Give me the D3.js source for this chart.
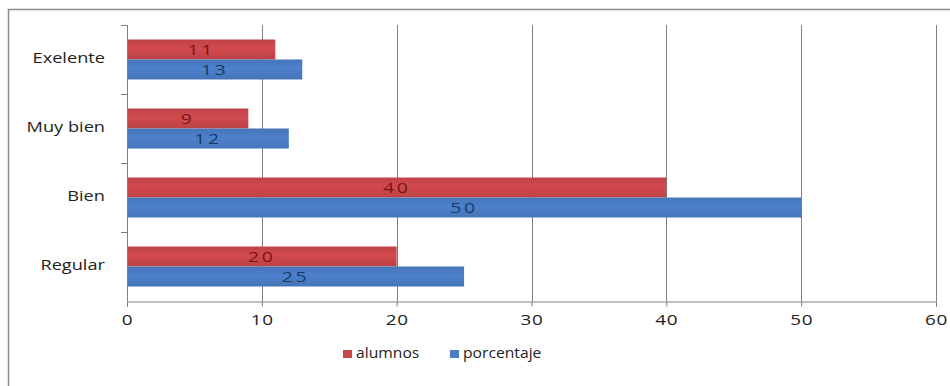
<!DOCTYPE html>
<html>
<head>
<meta charset="utf-8">
<script src="https://cdn.jsdelivr.net/npm/d3@7"></script>
<style>
  body { margin: 0; background: #fff; }
  text { font-family: "Open Sans", "DejaVu Sans", sans-serif; }
</style>
</head>
<body>
<div id="chart"></div>
<script>
// chart data
const categories = ["Exelente", "Muy bien", "Bien", "Regular"]
const seriesNames = ["alumnos", "porcentaje"]
const alumnos = [11, 9, 40, 20]
const porcentaje = [13, 12, 50, 25]
const xTicks = [0, 10, 20, 30, 40, 50, 60]

const colors = { alumnos: "#c9474b", porcentaje: "#4a7cc3" }
const labelColors = { alumnos: "#7a1416", porcentaje: "#1b3a66" }

const width = 950
const height = 386
const plot = { left: 127, right: 936, top: 25, bottom: 301 }

// the original picture is stretched sideways, so text gets a horizontal scale
const stretch = (px, py, sx) => `translate(${px},${py}) scale(${sx},1)`

const svg = d3.select("#chart")
  .append("svg")
  .attr("width", width)
  .attr("height", height)

// gradients to get a bit of the old Excel look
const defs = svg.append("defs")
seriesNames.forEach(name => {
  const base = d3.color(colors[name])
  const grad = defs.append("linearGradient")
    .attr("id", "grad-" + name)
    .attr("x1", 0).attr("y1", 0).attr("x2", 0).attr("y2", 1)
  grad.append("stop").attr("offset", "0%").attr("stop-color", base.darker(0.15))
  grad.append("stop").attr("offset", "45%").attr("stop-color", base.brighter(0.12))
  grad.append("stop").attr("offset", "100%").attr("stop-color", base.darker(0.2))
})

// outer frame
svg.append("rect")
  .attr("x", 8.5)
  .attr("y", 9.5)
  .attr("width", 960)
  .attr("height", 400)
  .attr("fill", "none")
  .attr("stroke", "#8c8c8c")
  .attr("stroke-width", 1.5)

const x = d3.scaleLinear()
  .domain([0, 60])
  .range([plot.left, plot.right])

const y = d3.scaleBand()
  .domain(categories)
  .range([plot.top, plot.bottom])

const inner = d3.scaleBand()
  .domain(seriesNames)
  .range([0, 40])

const groupOffset = (y.bandwidth() - 40) / 2

// vertical gridlines
svg.append("g")
  .selectAll("line")
  .data(xTicks.slice(1))
  .enter()
  .append("line")
  .attr("x1", d => Math.round(x(d)) + 0.5)
  .attr("x2", d => Math.round(x(d)) + 0.5)
  .attr("y1", plot.top)
  .attr("y2", plot.bottom)
  .attr("stroke", "#7f7f7f")
  .attr("stroke-width", 1)

// bars
const rows = categories.map((c, i) => ({ cat: c, alumnos: alumnos[i], porcentaje: porcentaje[i] }))

const groups = svg.append("g")
  .selectAll("g")
  .data(rows)
  .enter()
  .append("g")
  .attr("transform", d => `translate(0,${y(d.cat) + groupOffset})`)

groups.selectAll("rect")
  .data(d => seriesNames.map(s => ({ key: s, value: d[s] })))
  .enter()
  .append("rect")
  .attr("x", x(0))
  .attr("y", d => inner(d.key))
  .attr("width", d => x(d.value) - x(0))
  .attr("height", inner.bandwidth())
  .attr("fill", d => "url(#grad-" + d.key + ")")

groups.selectAll("text")
  .data(d => seriesNames.map(s => ({ key: s, value: d[s] })))
  .enter()
  .append("text")
  .attr("transform", d => stretch((x(0) + x(d.value)) / 2, inner(d.key) + inner.bandwidth() / 2 + 1, 1.3))
  .attr("dominant-baseline", "middle")
  .attr("text-anchor", "middle")
  .style("font-size", "15px")
  .style("letter-spacing", "2px")
  .style("fill", d => labelColors[d.key])
  .text(d => d.value)

// y axis line and separator ticks
svg.append("line")
  .attr("x1", plot.left + 0.5)
  .attr("x2", plot.left + 0.5)
  .attr("y1", plot.top)
  .attr("y2", plot.bottom)
  .attr("stroke", "#7f7f7f")

svg.append("g")
  .selectAll("line")
  .data(categories)
  .enter()
  .append("line")
  .attr("x1", plot.left - 6)
  .attr("x2", plot.left)
  .attr("y1", d => Math.round(y(d)) + 0.5)
  .attr("y2", d => Math.round(y(d)) + 0.5)
  .attr("stroke", "#7f7f7f")

svg.append("g")
  .selectAll("text")
  .data(categories)
  .enter()
  .append("text")
  .attr("transform", d => stretch(105, y(d) + y.bandwidth() / 2, 1.3))
  .attr("dominant-baseline", "middle")
  .attr("text-anchor", "end")
  .style("font-size", "14px")
  .style("fill", "#222")
  .text(d => d)

// x axis
const xAxis = svg.append("g")
  .attr("transform", `translate(0,${plot.bottom + 0.5})`)
  .call(d3.axisBottom(x).tickValues(xTicks).tickSize(5).tickPadding(8))

xAxis.select(".domain").attr("stroke", "#7f7f7f")
xAxis.selectAll(".tick line").attr("stroke", "#7f7f7f")
xAxis.selectAll(".tick text")
  .attr("y", null)
  .attr("dy", null)
  .attr("transform", stretch(0, 20, 1.35))
  .attr("dominant-baseline", "middle")
  .style("font-size", "14px")
  .style("letter-spacing", "0.5px")
  .style("fill", "#222")
  .style("font-family", "\"Open Sans\", \"DejaVu Sans\", sans-serif")

// legend
const legendItems = [
  { key: "alumnos", x: 343 },
  { key: "porcentaje", x: 450 }
]
const legend = svg.append("g")
  .selectAll("g")
  .data(legendItems)
  .enter()
  .append("g")
  .attr("transform", d => `translate(${d.x},354)`)

legend.append("rect")
  .attr("x", 0)
  .attr("y", -4)
  .attr("width", 9)
  .attr("height", 8)
  .attr("fill", d => colors[d.key])

legend.append("text")
  .attr("transform", stretch(13, 0, 1.12))
  .attr("dominant-baseline", "middle")
  .style("font-size", "14px")
  .style("fill", "#222")
  .text(d => d.key)
</script>
</body>
</html>
